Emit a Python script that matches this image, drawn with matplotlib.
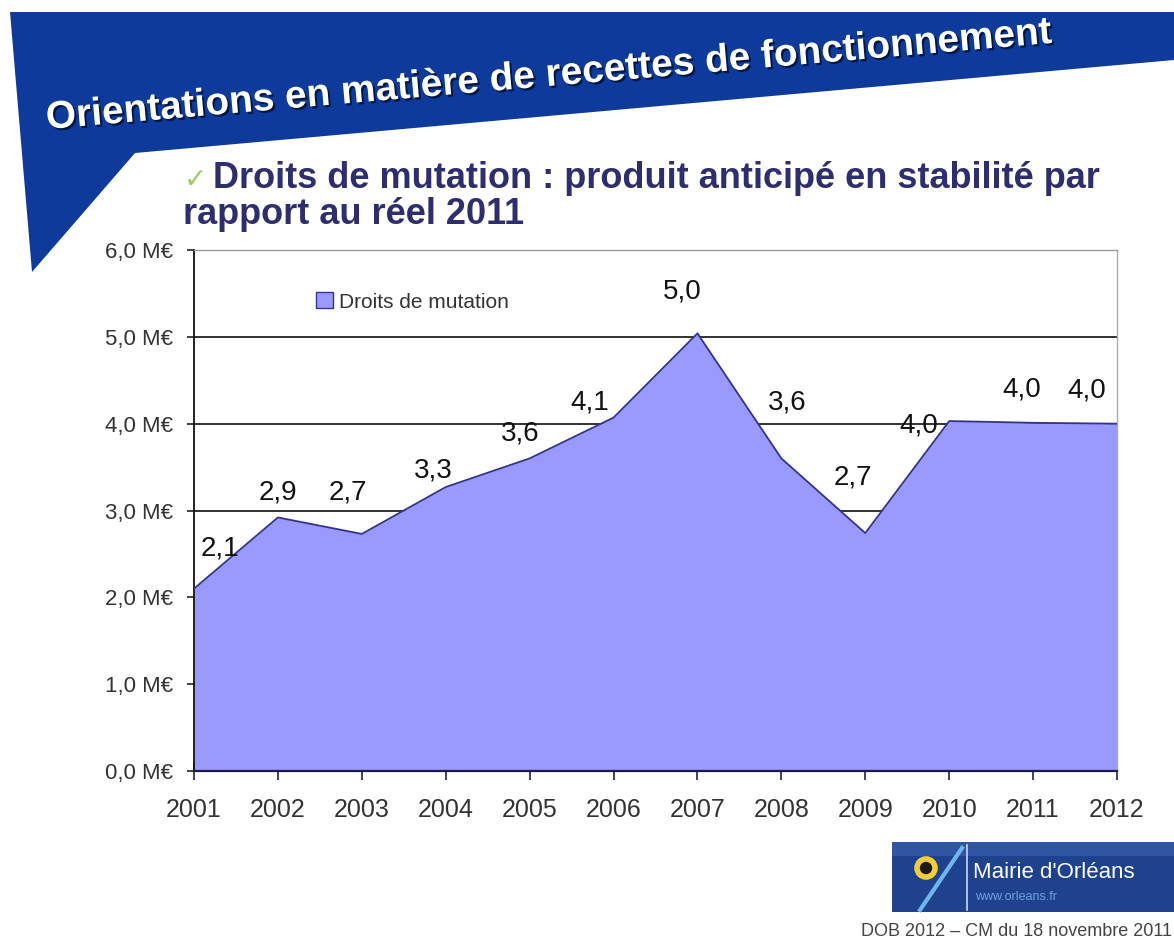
import matplotlib
matplotlib.use("Agg")
import matplotlib.pyplot as plt
import matplotlib.patheffects as pe
from matplotlib.patches import Polygon, Rectangle, Circle, Patch
import numpy as np

plt.rcParams['font.family'] = ['Liberation Sans', 'DejaVu Sans']

# data
years  = ['2001', '2002', '2003', '2004', '2005', '2006',
          '2007', '2008', '2009', '2010', '2011', '2012']
values = [2.1, 2.92, 2.73, 3.27, 3.6, 4.07, 5.04, 3.6, 2.74, 4.03, 4.01, 4.0]
series_name = 'Droits de mutation'
y_ticks = [0, 1, 2, 3, 4, 5, 6]

title    = 'Orientations en matière de recettes de fonctionnement'
subtitle = ['Droits de mutation : produit anticipé en stabilité par',
            'rapport au réel 2011']
footer   = 'DOB 2012 \u2013 CM du 18 novembre 2011'

# label offsets (points) from each data point, as placed in the slide
label_offsets = [(19, 29), (0, 18), (-10, 30), (-9, 12), (-7, 18), (-17, 11),
                 (-11, 30), (4, 40), (-9, 40), (-22, -3), (-8, 24), (-22, 24)]

W, H = 1174, 943
fig = plt.figure(figsize=(W / 100, H / 100), dpi=100)
fig.patch.set_facecolor('white')

# background layer in pixel coords
bg = fig.add_axes([0, 0, 1, 1])
bg.set_xlim(0, W)
bg.set_ylim(H, 0)
bg.axis('off')

banner = Polygon([(10, 12), (W, 12), (W, 60), (135, 153), (32, 272)],
                 closed=True, facecolor='#0d3a9b', edgecolor='none')
bg.add_patch(banner)
bg.text(47, 129, title, color='white', fontsize=28, fontweight='bold',
        rotation=4.9, rotation_mode='anchor', ha='left', va='baseline',
        path_effects=[pe.SimplePatchShadow(offset=(1.5, -1.5), shadow_rgbFace='#00123a', alpha=0.9),
                      pe.Normal()])

bg.text(184, 188, '\u2713', color='#99cc66', fontsize=20, family='DejaVu Sans',
        ha='left', va='baseline')
bg.text(213, 188, subtitle[0], color='#2e2e6e', fontsize=26, fontweight='bold',
        ha='left', va='baseline')
bg.text(183, 224, subtitle[1], color='#2e2e6e', fontsize=26, fontweight='bold',
        ha='left', va='baseline')

# logo
bg.add_patch(Rectangle((892, 842), W - 892, 70, facecolor='#1f428f', edgecolor='none'))
bg.add_patch(Rectangle((892, 842), W - 892, 14, facecolor='#2f55a3', edgecolor='none'))
bg.plot([967, 967], [845, 910], color='#c9d6ee', lw=1.2)
bg.plot([920, 962], [910, 848], color='#6fb7ea', lw=3)
bg.add_patch(Circle((926, 868), 9, facecolor='#1a1a1a', edgecolor='#f2cf3a', lw=4))
bg.text(973, 878, "Mairie d'Orléans", color='white', fontsize=16, ha='left', va='baseline')
bg.text(975, 900, 'www.orleans.fr', color='#6fa3e0', fontsize=9, ha='left', va='baseline')
bg.text(1172, 932, footer, color='#444444', fontsize=13, ha='right', va='center')

# chart
ax = fig.add_axes([194 / W, 1 - 771 / H, (1117 - 194) / W, (771 - 250) / H])
ax.set_facecolor('white')
x = np.arange(len(years))
for v in y_ticks[1:-1]:
    ax.axhline(v, color='#222222', lw=1.3, zorder=1)
ax.fill_between(x, values, color='#9999ff', zorder=2, lw=0)
ax.plot(x, values, color='#333388', lw=1.3, zorder=3)

for i, v in enumerate(values):
    lab = f'{v:.1f}'.replace('.', ',')
    ax.annotate(lab, (x[i], v), xytext=label_offsets[i], textcoords='offset points',
                ha='center', va='center', fontsize=20, color='#111111', zorder=4)

ax.set_xlim(0, len(years) - 1)
ax.set_ylim(y_ticks[0], y_ticks[-1])
ax.set_xticks(x)
ax.set_xticklabels(years)
ax.set_yticks(y_ticks)
ax.set_yticklabels([f'{t:.1f} M€'.replace('.', ',') for t in y_ticks])
ax.tick_params(axis='y', direction='out', length=5, width=1.2, pad=10,
               labelsize=16, labelcolor='#333333', color='#222222')
ax.tick_params(axis='x', direction='inout', length=13, width=1.2, pad=13,
               labelsize=18, labelcolor='#333333', color='#222244')

ax.spines['left'].set_color('#111111')
ax.spines['left'].set_linewidth(1.3)
ax.spines['bottom'].set_color('#1a1a50')
ax.spines['bottom'].set_linewidth(1.6)
ax.spines['top'].set_color('#999999')
ax.spines['top'].set_linewidth(1.0)
ax.spines['right'].set_color('#aaaaaa')
ax.spines['right'].set_linewidth(1.0)

ax.legend([Patch(facecolor='#9999ff', edgecolor='#333399')], [series_name],
          frameon=False, loc='center left', bbox_to_anchor=(316 / W, 1 - 302 / H),
          bbox_transform=fig.transFigure, fontsize=15, handlelength=0.8,
          handleheight=0.8, handletextpad=0.3, borderpad=0, borderaxespad=0,
          labelcolor='#333333')

fig.savefig('out.png', dpi=100, facecolor='white')
